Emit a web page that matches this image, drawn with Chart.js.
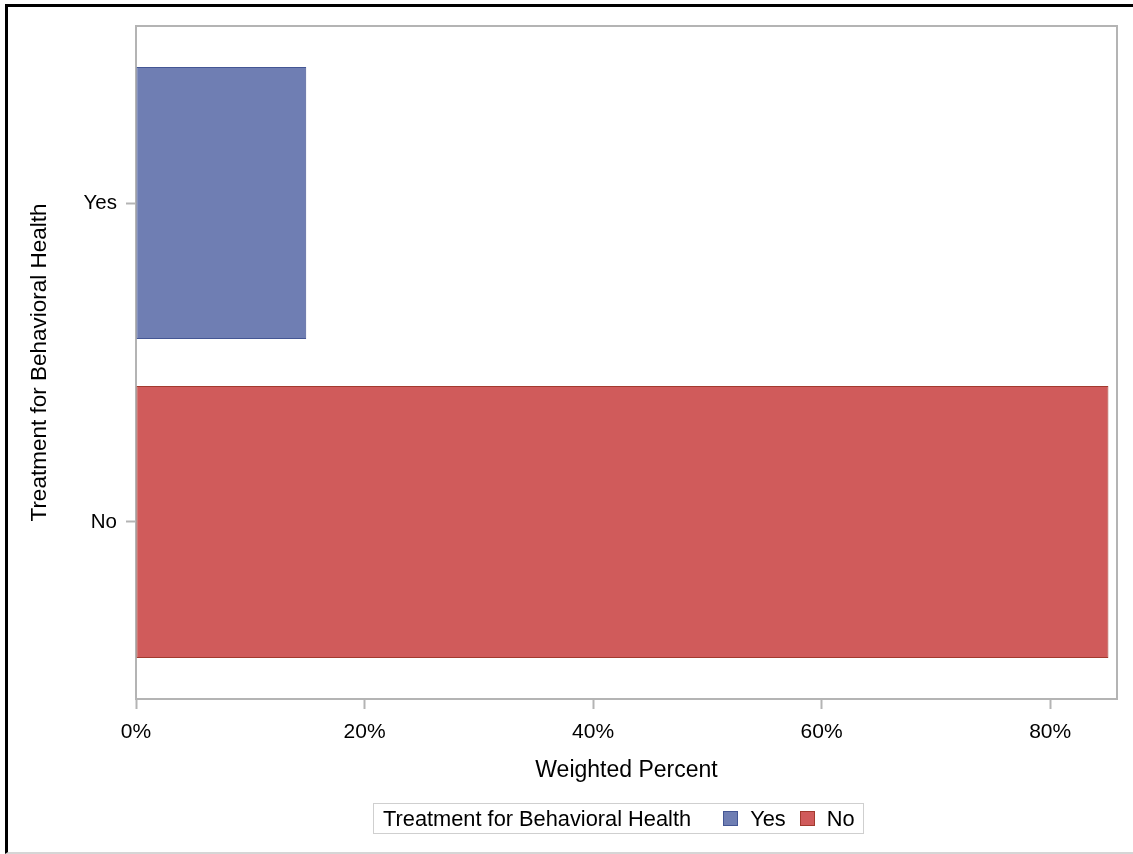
<!DOCTYPE html>
<html>
<head>
<meta charset="utf-8">
<title>Treatment for Behavioral Health</title>
<script src="https://cdn.jsdelivr.net/npm/chart.js@4.4.1/dist/chart.umd.min.js"></script>
<style>
    html, body {
        margin: 0;
        padding: 0;
        width: 1133px;
        height: 854px;
        overflow: hidden;
        background: #ffffff;
        font-family: "Liberation Sans", Arial, sans-serif;
    }
    #frame {
        position: absolute;
        left: 5px;
        top: 4px;
        width: 1200px;
        height: 845px;
        border-left: 3px solid #000000;
        border-top: 3px solid #000000;
        border-bottom: 2px solid #d6d6d6;
    }
    #myBarChart {
        position: absolute;
        left: 0;
        top: 0;
    }
    #legend {
        position: absolute;
        left: 373px;
        top: 803px;
        height: 29px;
        box-sizing: content-box;
        border: 1px solid #cfcfcf;
        display: flex;
        align-items: center;
        padding: 0 8px 0 9px;
        font-size: 21.8px;
        color: #000000;
        white-space: nowrap;
    }
    #legend .legend-title {
        margin-right: 32px;
    }
    #legend .legend-swatch {
        display: inline-block;
        width: 13px;
        height: 13px;
        border: 1px solid;
        margin-right: 12px;
    }
    #legend .legend-label {
        margin-right: 14px;
    }
    #legend .legend-label:last-child {
        margin-right: 0;
    }
</style>
</head>
<body>
<div id="frame"></div>
<canvas id="myBarChart" width="1133" height="854"></canvas>
<div id="legend"></div>

<script>
    "use strict";

    // dados
    const categories = ['Yes', 'No'];
    const weightedPercent = [14.9, 85.1];
    const xTickValues = [0, 20, 40, 60, 80];

    const fillColors = ['#6F7EB3', '#D05B5B'];
    const edgeColors = ['#445694', '#A23A2E'];

    const axisTitleY = 'Treatment for Behavioral Health';
    const axisTitleX = 'Weighted Percent';

    const axisGray = '#b4b4b4';

    // desenha as bordas de cima e da direita da área do gráfico
    const plotFrame = {
        id: 'plotFrame',
        afterDraw: function (chart) {
            var ctx = chart.ctx;
            var area = chart.chartArea;
            ctx.save();
            ctx.strokeStyle = axisGray;
            ctx.lineWidth = 2;
            ctx.beginPath();
            ctx.moveTo(area.left, area.top);
            ctx.lineTo(area.right, area.top);
            ctx.lineTo(area.right, area.bottom);
            ctx.stroke();
            ctx.restore();
        }
    };

    function render_legend() {
        var legend = document.getElementById('legend');
        var html = '<span class="legend-title">' + axisTitleY + '</span>';
        categories.forEach(function (label, i) {
            html += '<span class="legend-swatch" style="background:' + fillColors[i] +
                ';border-color:' + edgeColors[i] + '"></span>';
            html += '<span class="legend-label">' + label + '</span>';
        });
        legend.innerHTML = html;
    }

    function render_bar_chart() {
        if (typeof Chart === 'undefined') {
            console.error("Chart.js não foi carregado!");
            return;
        }

        var ctx = document.getElementById('myBarChart').getContext('2d');

        Chart.defaults.font.family = '"Liberation Sans", Arial, sans-serif';
        Chart.defaults.color = '#000000';

        const data = {
            datasets: [{
                label: axisTitleX,
                data: weightedPercent.map(function (v, i) {
                    return { x: v, y: i };
                }),
                backgroundColor: fillColors,
                borderColor: edgeColors,
                borderWidth: 1,
                borderSkipped: false,
                categoryPercentage: 1.0,
                barPercentage: 0.853
            }]
        };

        new Chart(ctx, {
            type: 'bar',
            data: data,
            plugins: [plotFrame],
            options: {
                indexAxis: 'y',
                responsive: false,
                animation: false,
                layout: {
                    padding: { top: 26, right: 16, bottom: 64, left: 0 }
                },
                plugins: {
                    legend: { display: false },
                    tooltip: { enabled: false }
                },
                scales: {
                    x: {
                        type: 'linear',
                        min: 0,
                        max: 85.85,
                        afterBuildTicks: function (scale) {
                            scale.ticks = xTickValues.map(function (v) { return { value: v }; });
                        },
                        afterFit: function (scale) {
                            scale.height = 91;
                        },
                        grid: {
                            drawOnChartArea: false,
                            drawTicks: true,
                            tickLength: 10,
                            tickWidth: 2,
                            tickColor: axisGray
                        },
                        border: { display: true, color: axisGray, width: 2 },
                        ticks: {
                            padding: 11,
                            font: { size: 21 },
                            callback: function (value) { return value + '%'; }
                        },
                        title: {
                            display: true,
                            text: axisTitleX,
                            font: { size: 23 },
                            padding: { top: 0, bottom: 6 }
                        }
                    },
                    y: {
                        type: 'linear',
                        reverse: true,
                        offset: false,
                        min: -0.555,
                        max: 1.555,
                        afterBuildTicks: function (scale) {
                            scale.ticks = categories.map(function (c, i) { return { value: i }; });
                        },
                        afterFit: function (scale) {
                            scale.width = 136;
                        },
                        grid: {
                            offset: false,
                            drawOnChartArea: false,
                            drawTicks: true,
                            tickLength: 10,
                            tickWidth: 2,
                            tickColor: axisGray
                        },
                        border: { display: true, color: axisGray, width: 2 },
                        ticks: {
                            padding: 9,
                            font: { size: 20.5 },
                            callback: function (value) { return categories[value]; }
                        },
                        title: {
                            display: true,
                            text: axisTitleY,
                            font: { size: 22.5 },
                            padding: { top: 26, bottom: 0 }
                        }
                    }
                }
            }
        });
    }

    render_legend();
    render_bar_chart();
</script>
</body>
</html>
